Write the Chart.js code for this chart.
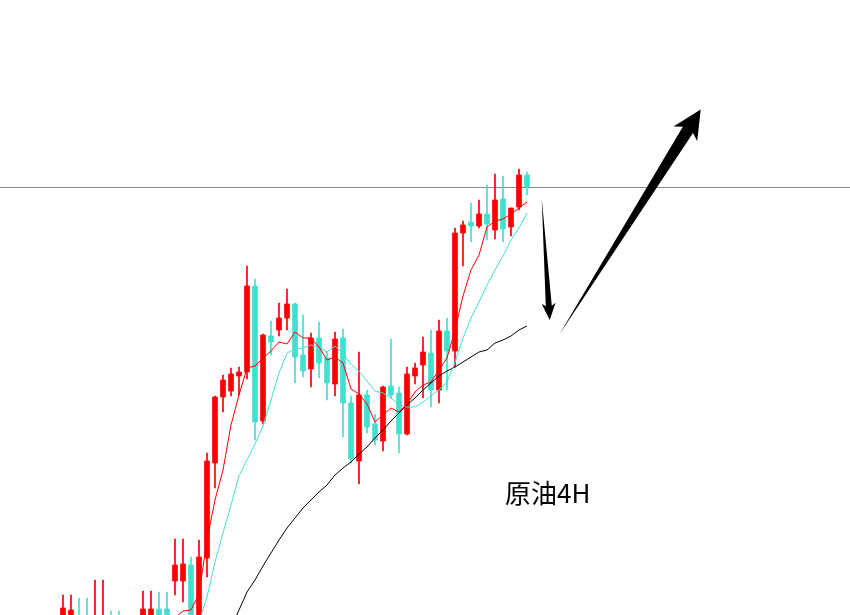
<!DOCTYPE html>
<html>
<head>
<meta charset="utf-8">
<script src="https://cdn.jsdelivr.net/npm/chart.js@4.4.1/dist/chart.umd.min.js"></script>
<style>
    html, body { margin: 0; padding: 0; background: #fff; }
    #wrap { width: 850px; height: 615px; }
</style>
</head>
<body>
<div id="wrap"><canvas id="oilChart" width="850" height="615"></canvas></div>
<script>
// crude oil 4H candles
const opens = [66.30, 66.26, 66.38, 66.34, 65.94, 65.98, 66.24, 66.22, 65.78, 65.82,
    66.24, 66.26, 66.56, 66.56, 67.12, 67.12, 67.44, 66.30, 67.58, 69.48,
    70.80, 70.92, 71.22, 71.30, 73.02, 70.32, 72.02, 72.14, 72.38, 72.66,
    71.64, 71.36, 71.98, 71.58, 71.06, 71.98, 70.68, 69.52, 70.84, 70.26,
    69.92, 71.02, 70.88, 70.06, 71.22, 71.44, 71.68, 70.94, 72.12, 71.72,
    74.08, 74.30, 74.22, 74.46, 74.14, 74.76, 74.20, 74.60, 75.24];
const highs = [66.84, 66.84, 66.78, 66.78, 67.14, 67.14, 66.52, 66.52, 66.34, 66.30,
    66.92, 66.92, 66.90, 66.90, 67.96, 67.96, 67.60, 67.94, 69.68, 70.82,
    71.24, 71.38, 71.40, 73.42, 73.16, 72.06, 72.32, 72.68, 72.96, 72.68,
    72.44, 72.08, 72.30, 71.70, 72.10, 72.16, 70.82, 71.70, 70.94, 70.46,
    71.02, 71.96, 71.00, 71.40, 71.48, 72.00, 72.14, 72.34, 72.38, 74.18,
    74.32, 74.68, 74.74, 75.04, 75.26, 75.22, 74.58, 75.36, 75.30];
const lows = [66.18, 66.14, 65.94, 65.94, 65.78, 65.82, 65.74, 65.70, 65.64, 65.66,
    66.10, 66.14, 66.18, 66.18, 66.84, 66.70, 66.14, 66.18, 67.20, 68.98,
    70.50, 70.82, 70.84, 71.16, 69.94, 70.26, 71.64, 72.02, 72.14, 71.08,
    71.20, 71.00, 71.18, 70.74, 70.82, 70.00, 69.48, 69.06, 70.08, 69.84,
    69.72, 70.78, 69.68, 70.04, 71.06, 70.78, 70.60, 70.68, 70.94, 71.40,
    73.42, 73.90, 74.18, 73.94, 73.96, 73.90, 74.02, 74.54, 74.84];
const closes = [66.58, 66.54, 66.10, 66.06, 66.30, 66.34, 65.84, 65.82, 66.14, 66.18,
    66.56, 66.56, 66.30, 66.32, 67.44, 67.46, 66.30, 67.60, 69.52, 70.80,
    71.14, 71.26, 71.30, 73.02, 70.30, 72.04, 71.90, 72.38, 72.66, 71.60,
    71.32, 71.98, 71.48, 71.08, 71.96, 70.68, 69.56, 70.84, 70.20, 69.94,
    71.00, 70.84, 70.06, 71.26, 71.38, 71.70, 70.94, 72.12, 71.72, 74.08,
    74.24, 74.22, 74.46, 74.26, 74.74, 74.16, 74.58, 75.24, 75.00];

// moving averages (red = fast, cyan = mid, black = slow)
const maFast = [66.05, 66.02, 66.00, 65.98, 65.96, 65.98, 66.00, 66.02, 66.00, 65.98,
    66.05, 66.10, 66.15, 66.22, 66.38, 66.52, 66.54, 66.86, 67.94, 68.74,
    69.34, 70.24, 70.84, 71.38, 71.42, 71.58, 71.72, 71.90, 71.86, 72.10,
    71.98, 71.98, 71.80, 71.54, 71.60, 71.48, 70.96, 70.86, 70.66, 70.30,
    70.44, 70.58, 70.50, 70.66, 70.90, 71.04, 71.10, 71.34, 71.58, 72.14,
    72.82, 73.34, 73.64, 74.20, 74.32, 74.36, 74.46, 74.58, 74.70];
const maMid = [65.90, 65.88, 65.86, 65.85, 65.84, 65.85, 65.86, 65.88, 65.90, 65.92,
    65.95, 65.98, 66.00, 66.02, 66.06, 66.10, 66.14, 66.30, 66.80, 67.50,
    68.08, 68.64, 69.22, 69.54, 69.86, 70.22, 70.74, 71.28, 71.68, 71.76,
    71.78, 71.84, 71.80, 71.70, 71.82, 71.66, 71.46, 71.32, 71.12, 70.92,
    70.88, 70.78, 70.64, 70.60, 70.60, 70.70, 70.82, 70.94, 71.10, 71.50,
    71.98, 72.38, 72.70, 73.04, 73.34, 73.62, 73.94, 74.18, 74.48];
const maSlow = [null, null, null, null, null, null, null, null, null, null,
    null, null, null, null, null, null, null, null, null, null,
    65.84, 66.18, 66.54, 66.90, 67.14, 67.42, 67.68, 67.94, 68.18, 68.38,
    68.58, 68.74, 68.90, 69.04, 69.24, 69.38, 69.50, 69.66, 69.80, 69.98,
    70.14, 70.32, 70.48, 70.64, 70.78, 70.94, 71.08, 71.22, 71.32, 71.40,
    71.50, 71.60, 71.70, 71.74, 71.88, 71.94, 72.02, 72.14, 72.22];

const resistance = 75.00;
const chartLabel = '原油4H';

const upColor = '#ff0000';
const downColor = '#40e0d0';

const candleColors = opens.map((o, i) => closes[i] >= o ? upColor : downColor);
const toPoints = arr => arr.map((v, i) => ({ x: i, y: v }));

// hand drawn arrows, in (bar index, price)
const arrows = [
    { from: [59.84, 74.77], to: [60.84, 72.34], shaft: 6, headW: 14, headL: 14 },
    { from: [62.04, 72.05], to: [79.71, 76.55], shaft: 12, headW: 28, headL: 24 }
];
const labelPos = [60.6, 68.88];

const drawArrow = (ctx, x0, y0, x1, y1, shaft, headW, headL) => {
    const len = Math.hypot(x1 - x0, y1 - y0);
    const ux = (x1 - x0) / len, uy = (y1 - y0) / len;
    const nx = -uy, ny = ux;
    const bx = x1 - ux * headL, by = y1 - uy * headL;
    // barbs sit a little behind the shaft joint
    const cx = bx - ux * headL * 0.2, cy = by - uy * headL * 0.2;
    ctx.beginPath();
    ctx.moveTo(x0, y0);
    ctx.lineTo(bx + nx * shaft / 2, by + ny * shaft / 2);
    ctx.lineTo(cx + nx * headW / 2, cy + ny * headW / 2);
    ctx.lineTo(x1, y1);
    ctx.lineTo(cx - nx * headW / 2, cy - ny * headW / 2);
    ctx.lineTo(bx - nx * shaft / 2, by - ny * shaft / 2);
    ctx.closePath();
    ctx.fill();
};

const extrasPlugin = {
    id: 'extras',
    beforeDatasetsDraw(chart) {
        const { ctx, chartArea, scales } = chart;
        const y = Math.round(scales.y.getPixelForValue(resistance)) + 0.5;
        ctx.save();
        ctx.strokeStyle = '#808890';
        ctx.lineWidth = 1;
        ctx.beginPath();
        ctx.moveTo(chartArea.left, y);
        ctx.lineTo(chartArea.right, y);
        ctx.stroke();
        ctx.restore();
    },
    afterDatasetsDraw(chart) {
        const { ctx, scales } = chart;
        ctx.save();
        ctx.fillStyle = '#000';
        arrows.forEach(a => {
            drawArrow(ctx,
                scales.x.getPixelForValue(a.from[0]), scales.y.getPixelForValue(a.from[1]),
                scales.x.getPixelForValue(a.to[0]), scales.y.getPixelForValue(a.to[1]),
                a.shaft, a.headW, a.headL);
        });
        ctx.font = '26px "Noto Sans CJK SC", "Noto Sans", sans-serif';
        ctx.textAlign = 'center';
        ctx.textBaseline = 'middle';
        ctx.fillText(chartLabel, scales.x.getPixelForValue(labelPos[0]), scales.y.getPixelForValue(labelPos[1]));
        ctx.restore();
    }
};

new Chart('oilChart', {
    type: 'bar',
    data: {
        datasets: [
            {
                type: 'line', data: toPoints(maFast), borderColor: upColor, borderWidth: 1,
                pointRadius: 0, tension: 0, order: 0
            },
            {
                type: 'line', data: toPoints(maMid), borderColor: downColor, borderWidth: 1,
                pointRadius: 0, tension: 0, order: 0
            },
            {
                type: 'line', data: toPoints(maSlow), borderColor: '#000', borderWidth: 1,
                pointRadius: 0, tension: 0, order: 0
            },
            {
                // bodies
                data: opens.map((o, i) => ({ x: i, y: [o, closes[i]] })),
                backgroundColor: candleColors, barThickness: 5, minBarLength: 1,
                grouped: false, order: 1
            },
            {
                // wicks
                data: lows.map((l, i) => ({ x: i, y: [l, highs[i]] })),
                backgroundColor: candleColors, barThickness: 1,
                grouped: false, order: 2
            }
        ]
    },
    options: {
        responsive: false,
        animation: false,
        layout: { padding: 0 },
        plugins: {
            legend: { display: false },
            tooltip: { enabled: false }
        },
        scales: {
            x: { type: 'linear', min: -7.875, max: 98.375, offset: false, display: false },
            y: { type: 'linear', min: 66.44, max: 78.74, display: false }
        }
    },
    plugins: [extrasPlugin]
});
</script>
</body>
</html>
